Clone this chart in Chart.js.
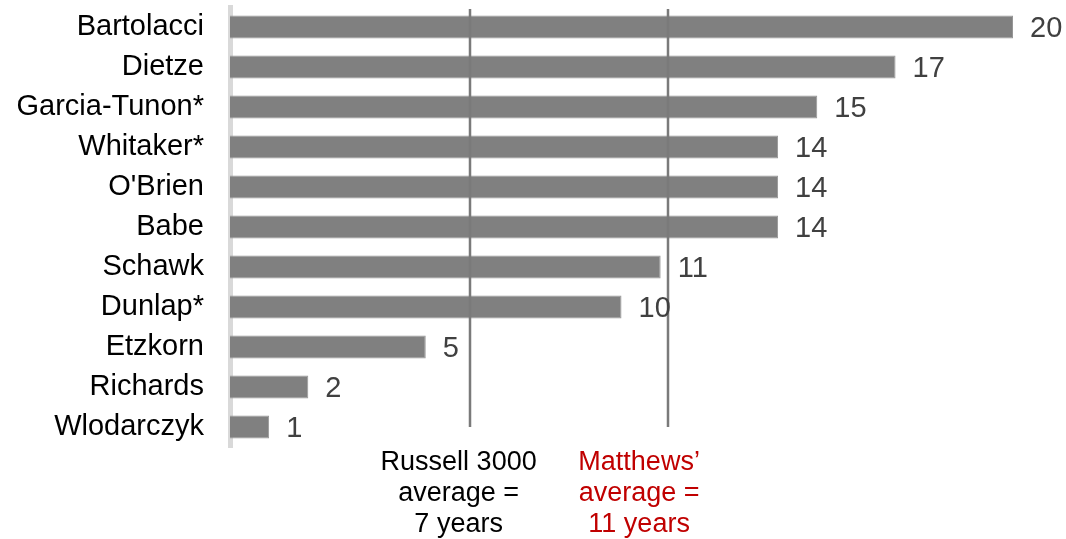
<!DOCTYPE html>
<html lang="en">
<head>
  <meta charset="UTF-8">
  <title>Tenure chart</title>
  <script src="https://cdn.jsdelivr.net/npm/chart.js"></script>
  <style>
    html, body { margin: 0; padding: 0; background: #ffffff; }
    #wrap { width: 1066px; height: 539px; position: relative; }
  </style>
</head>
<body>
  <div id="wrap"><canvas id="chart" width="1066" height="539"></canvas></div>

  <script>
    // Chart data
    var names = ['Bartolacci', 'Dietze', 'Garcia-Tunon*', 'Whitaker*', "O'Brien", 'Babe',
                 'Schawk', 'Dunlap*', 'Etzkorn', 'Richards', 'Wlodarczyk'];
    var years = [20, 17, 15, 14, 14, 14, 11, 10, 5, 2, 1];

    // reference lines (value where the line sits) and their notes
    var refLineValues = [6.13, 11.18];
    var refNoteCentres = [5.84, 10.45];
    var refNotes = [
      ['Russell 3000', 'average =', '7 years'],
      ['Matthews\u2019', 'average =', '11 years']
    ];
    var refNoteColors = ['#000000', '#c00000'];

    var fontFamily = '"Liberation Sans", Arial, sans-serif';

    // draws the two average lines, the notes under them and the value labels
    var extrasPlugin = {
      id: 'extras',
      afterDatasetsDraw: function(chart) {
        var ctx = chart.ctx;
        var x = chart.scales.x;
        var y = chart.scales.y;
        var area = chart.chartArea;

        ctx.save();
        // vertical lines
        ctx.strokeStyle = '#7a7a7a';
        ctx.lineWidth = 2.5;
        refLineValues.forEach(function(v) {
          var px = Math.round(x.getPixelForValue(v));
          ctx.beginPath();
          ctx.moveTo(px, area.top + 2);
          ctx.lineTo(px, y.getPixelForValue(names.length - 1));
          ctx.stroke();
        });

        // value labels
        ctx.font = '29px ' + fontFamily;
        ctx.fillStyle = '#404040';
        ctx.textAlign = 'left';
        ctx.textBaseline = 'middle';
        var meta = chart.getDatasetMeta(0);
        meta.data.forEach(function(bar, i) {
          ctx.fillText(String(years[i]), bar.x + 17, bar.y + 2);
        });

        // notes under the lines
        ctx.font = '27px ' + fontFamily;
        ctx.textAlign = 'center';
        refNotes.forEach(function(lines, k) {
          ctx.fillStyle = refNoteColors[k];
          var cx = x.getPixelForValue(refNoteCentres[k]);
          lines.forEach(function(t, j) {
            ctx.fillText(t, cx, area.bottom + 16 + j * 31);
          });
        });
        ctx.restore();
      }
    };

    new Chart(document.getElementById('chart').getContext('2d'), {
      type: 'bar',
      data: {
        labels: names,
        datasets: [{
          data: years,
          backgroundColor: '#808080',
          borderColor: '#969696',
          borderWidth: 1,
          categoryPercentage: 1,
          barPercentage: 0.575
        }]
      },
      options: {
        indexAxis: 'y',
        responsive: false,
        animation: false,
        layout: { padding: { top: 7, right: 53, bottom: 92, left: 0 } },
        plugins: {
          legend: { display: false },
          tooltip: { enabled: false }
        },
        scales: {
          x: {
            display: false,
            min: 0,
            max: 20
          },
          y: {
            grid: { display: false, drawTicks: false },
            border: { display: true, color: '#d9d9d9', width: 5 },
            ticks: {
              color: '#000000',
              padding: 26,
              font: { family: fontFamily, size: 29 }
            },
            afterFit: function(scale) {
              scale.width = 230;
              scale.paddingTop = 0;
              scale.paddingBottom = 0;
            }
          }
        }
      },
      plugins: [extrasPlugin]
    });
  </script>
</body>
</html>
